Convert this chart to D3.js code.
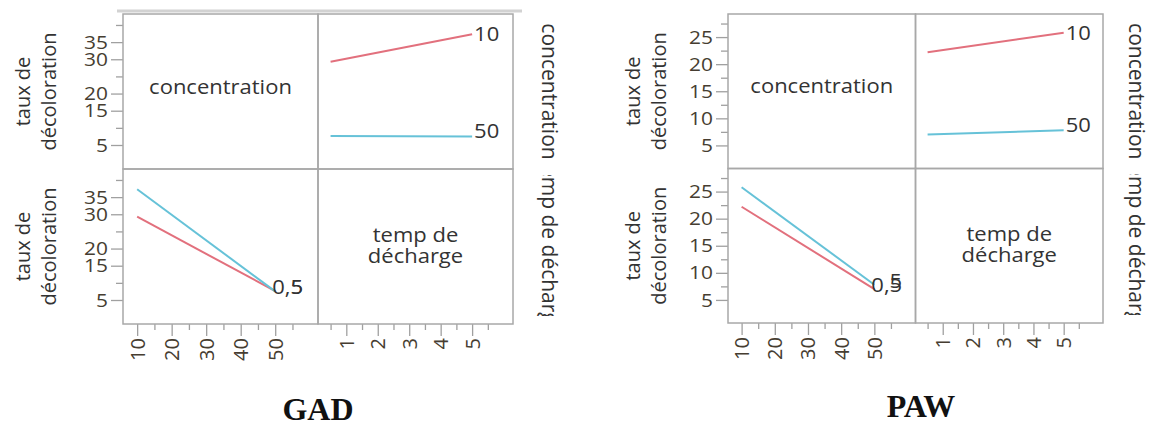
<!DOCTYPE html>
<html>
<head>
<meta charset="utf-8">
<script src="https://cdn.jsdelivr.net/npm/d3@7"></script>
<style>
  body { margin: 0; background: #fff; }
  text { font-family: "Open Sans", sans-serif; }
</style>
</head>
<body>
<svg id="chart"></svg>
<script>
// factor levels
const concLevels = [10, 50];
const tempLevels = [0.5, 5];
const concLabels = ["10", "50"];
const tempLabels = ["0,5", "5"];

// mean taux de décoloration : rows = concentration (10, 50), cols = temp de décharge (0.5, 5)
const gadMeans = [[29.3, 37.3], [7.6, 7.5]];
const pawMeans = [[22.2, 25.8], [7.0, 7.8]];

// y tick values
const gadYLabels = [5, 15, 20, 30, 35];
const gadYMinor = [10, 25, 40];
const pawYLabels = [5, 10, 15, 20, 25];
const pawYMinor = [7.5, 12.5, 17.5, 22.5, 27.5];

// x tick values
const concTicks = [10, 20, 30, 40, 50];
const concMinor = [15, 25, 35, 45, 55];
const tempTicks = [1, 2, 3, 4, 5];
const tempMinor = [0.5, 1.5, 2.5, 3.5, 4.5, 5.5];

const W = 1153, H = 426;
const red = "#e2707d", blue = "#66c2d8";
const frame = "#a8a8a8", tickCol = "#a0a0a0", labCol = "#463d31", txtCol = "#333";
const SX = 1.1; // the source picture is a bit wider than tall

const svg = d3.select("#chart").attr("width", W).attr("height", H);

function drawProfile(cfg) {
  const { x0, y0, w, h } = cfg;
  const g = svg.append("g").attr("transform", `translate(${x0},${y0})`);

  const y = d3.scaleLinear().domain(cfg.yDomain).range([h, 0]);
  const xc = d3.scaleLinear().domain([5.9, 62.4]).range([0, w]);
  const xt = d3.scaleLinear().domain([0.1, 6.3]).range([0, w]);

  if (cfg.header) {
    g.append("line")
      .attr("x1", -6).attr("x2", 2 * w + 9)
      .attr("y1", -3).attr("y2", -3)
      .attr("stroke", "#d2d2d2").attr("stroke-width", 3);
  }

  // y axes, one per row
  [0, 1].forEach(r => {
    const row = g.append("g").attr("transform", `translate(0,${r * h})`);
    const minor = row.append("g")
      .call(d3.axisLeft(y).tickValues(cfg.yMinor).tickSize(7).tickFormat(""));
    const major = row.append("g")
      .call(d3.axisLeft(y).tickValues(cfg.yLabels).tickSize(12).tickPadding(3));
    [minor, major].forEach(a => {
      a.select(".domain").remove();
      a.selectAll("line").attr("stroke", tickCol).attr("stroke-width", 1.3);
    });
    major.selectAll("text")
      .attr("x", -15 / SX)
      .attr("transform", `scale(${SX},1)`)
      .style("font-family", "Open Sans").style("font-size", "19px").attr("fill", labCol);

    // side titles
    row.append("text")
      .attr("transform", `translate(${-cfg.titleOff},${h / 2}) rotate(-90)`)
      .attr("text-anchor", "middle").attr("dominant-baseline", "central")
      .style("font-size", "20px").attr("fill", txtCol)
      .text("taux de");
    row.append("text")
      .attr("transform", `translate(${-cfg.titleOff + 26},${h / 2}) rotate(-90)`)
      .attr("text-anchor", "middle").attr("dominant-baseline", "central")
      .style("font-size", "20px").attr("fill", txtCol)
      .text("décoloration");
  });

  // x axes below bottom row
  const xAxes = [
    { scale: xc, ticks: concTicks, minor: concMinor, dx: 0 },
    { scale: xt, ticks: tempTicks, minor: tempMinor, dx: w }
  ];
  xAxes.forEach(ax => {
    const gx = g.append("g").attr("transform", `translate(${ax.dx},${2 * h})`);
    const minor = gx.append("g")
      .call(d3.axisBottom(ax.scale).tickValues(ax.minor).tickSize(6).tickFormat(""));
    const major = gx.append("g")
      .call(d3.axisBottom(ax.scale).tickValues(ax.ticks).tickSize(12).tickFormat(d3.format("d")));
    [minor, major].forEach(a => {
      a.select(".domain").remove();
      a.selectAll("line").attr("stroke", tickCol).attr("stroke-width", 1.3);
    });
    major.selectAll("text")
      .attr("transform", "rotate(-90)")
      .attr("x", -14).attr("y", 0).attr("dy", "0.35em")
      .style("text-anchor", "end")
      .style("font-family", "Open Sans").style("font-size", "20px").attr("fill", labCol);
  });

  // panel frames
  [[0, 0], [w, 0], [0, h], [w, h]].forEach(([px, py]) => {
    g.append("rect")
      .attr("x", px).attr("y", py).attr("width", w).attr("height", h)
      .attr("fill", "none").attr("stroke", frame).attr("stroke-width", 1.5);
  });

  // diagonal cell names
  g.append("text")
    .attr("transform", `translate(${w / 2},${h / 2}) scale(${SX},1)`)
    .attr("text-anchor", "middle").attr("dy", "0.1em")
    .style("font-size", "20px").attr("fill", txtCol)
    .text("concentration");
  const tc = g.append("text")
    .attr("transform", `translate(${1.5 * w},${1.5 * h}) scale(${SX},1)`)
    .attr("text-anchor", "middle")
    .style("font-size", "20px").attr("fill", txtCol);
  tc.append("tspan").attr("x", 0).attr("dy", "-0.25em").text("temp de");
  tc.append("tspan").attr("x", 0).attr("dy", "1.05em").text("décharge");

  // right titles
  g.append("text")
    .attr("transform", `translate(${2 * w + cfg.rightOff},${h / 2}) rotate(90)`)
    .attr("text-anchor", "middle").attr("dominant-baseline", "central")
    .style("font-size", "21px").attr("fill", txtCol)
    .text("concentration");
  const clipId = "clip" + cfg.name;
  g.append("clipPath").attr("id", clipId)
    .append("rect")
    .attr("x", 2 * w + 10).attr("y", h + 6)
    .attr("width", 50).attr("height", h - 14);
  g.append("g").attr("clip-path", `url(#${clipId})`)
    .append("text")
    .attr("transform", `translate(${2 * w + cfg.rightOff},${1.5 * h}) rotate(90)`)
    .attr("text-anchor", "middle").attr("dominant-baseline", "central")
    .style("font-size", "21px").attr("fill", txtCol)
    .text("temp de décharge");

  const line = d3.line();
  const m = cfg.means;

  // top-right cell: x = temp de décharge, one line per concentration
  const tr = g.append("g").attr("transform", `translate(${w},0)`);
  concLevels.forEach((c, i) => {
    const pts = tempLevels.map((t, j) => [xt(t), y(m[i][j])]);
    tr.append("path")
      .attr("d", line(pts))
      .attr("fill", "none").attr("stroke", i === 0 ? red : blue).attr("stroke-width", 2);
    const end = pts[pts.length - 1];
    tr.append("text")
      .attr("transform", `translate(${end[0] + 2},${end[1] + (i === 0 ? 7 : 2)}) scale(${SX},1)`)
      .style("font-size", "20px").attr("fill", txtCol)
      .text(concLabels[i]);
  });

  // bottom-left cell: x = concentration, one line per temp level
  const bl = g.append("g").attr("transform", `translate(0,${h})`);
  tempLevels.forEach((t, j) => {
    const pts = concLevels.map((c, i) => [xc(c), y(m[i][j])]);
    bl.append("path")
      .attr("d", line(pts))
      .attr("fill", "none").attr("stroke", j === 0 ? red : blue).attr("stroke-width", 2);
  });
  let firstRight = 0;
  tempLevels.forEach((t, j) => {
    const end = [xc(concLevels[1]), y(m[1][j])];
    const lab = bl.append("g")
      .attr("transform", `translate(${end[0] - 3},${end[1] + 3}) scale(${SX},1)`)
      .append("text")
      .style("font-size", "20px").attr("fill", txtCol)
      .text(tempLabels[j]);
    if (j === 0) {
      firstRight = lab.node().getBBox().width;
    } else {
      lab.attr("x", firstRight).attr("text-anchor", "end");
    }
  });

  // figure caption
  svg.append("text")
    .attr("x", cfg.captionX).attr("y", cfg.captionY)
    .attr("text-anchor", "middle")
    .style("font-family", "'Liberation Serif', 'Times New Roman', serif")
    .style("font-weight", "bold").style("font-size", "32px").attr("fill", "#111")
    .text(cfg.name);
}

drawProfile({
  name: "GAD", x0: 123, y0: 14, w: 195, h: 155, titleOff: 101, rightOff: 37,
  yDomain: [-2, 43.2], yLabels: gadYLabels, yMinor: gadYMinor,
  means: gadMeans, header: true, captionX: 318, captionY: 420
});
drawProfile({
  name: "PAW", x0: 728, y0: 14, w: 187.5, h: 154.5, titleOff: 96, rightOff: 34,
  yDomain: [0.74, 29.26], yLabels: pawYLabels, yMinor: pawYMinor,
  means: pawMeans, header: false, captionX: 921, captionY: 417
});
</script>
</body>
</html>
